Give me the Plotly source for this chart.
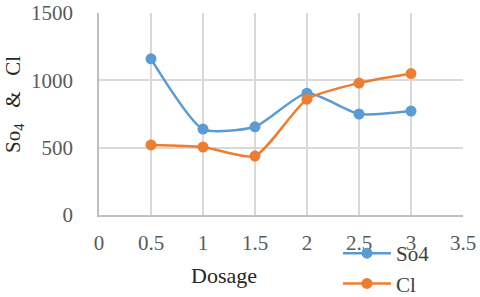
import plotly.graph_objects as go

dosage = [0.5, 1, 1.5, 2, 2.5, 3]
so4 = [1160, 638, 655, 905, 750, 772]
cl = [520, 505, 438, 860, 980, 1050]

FONT = "Liberation Serif"
L, R, T, B = 99, 17, 13, 82
W, H = 480, 297
pw, ph = W - L - R, H - T - B

fig = go.Figure()
fig.add_trace(go.Scatter(x=dosage, y=so4, name="So4", mode="lines+markers",
                         line=dict(color="#5B9BD5", width=2.5, shape="spline", smoothing=0.6),
                         marker=dict(size=11, color="#5B9BD5")))
fig.add_trace(go.Scatter(x=dosage, y=cl, name="Cl", mode="lines+markers",
                         line=dict(color="#ED7D31", width=2.5, shape="spline", smoothing=0.6),
                         marker=dict(size=11, color="#ED7D31")))

tickfont = dict(family=FONT, size=21, color="#595959")
fig.update_layout(
    width=W, height=H,
    margin=dict(l=L, r=R, t=T, b=B, autoexpand=False),
    paper_bgcolor="white", plot_bgcolor="white",
    font=dict(family=FONT, size=21, color="#595959"),
    showlegend=True,
    legend=dict(x=(338 - L) / pw, y=-(233 - T - ph) / ph, xanchor="left", yanchor="top",
                bgcolor="rgba(0,0,0,0)", font=dict(family=FONT, size=21, color="#404040"),
                tracegroupgap=0, itemwidth=48, borderwidth=0),
    xaxis=dict(range=[0, 3.5], dtick=0.5, tick0=0, showgrid=True, gridcolor="#D9D9D9",
               gridwidth=1.5, showline=True, linecolor="#BFBFBF", linewidth=1.5,
               zeroline=False, ticks="", tickfont=tickfont, automargin=False,
               ticklabelstandoff=8),
    yaxis=dict(range=[0, 1500], dtick=500, showgrid=True, gridcolor="#D9D9D9", gridwidth=1.5,
               showline=True, linecolor="#BFBFBF", linewidth=1.5, zeroline=False,
               ticks="", tickfont=tickfont, automargin=False, ticklabelstandoff=20),
)
fig.add_annotation(text="So<sub>4</sub>   &amp;   Cl", xref="paper", yref="paper",
                   x=(14 - L) / pw, y=(T + ph - 105) / ph, xanchor="center", yanchor="middle",
                   textangle=-90, showarrow=False,
                   font=dict(family=FONT, size=21, color="#262626"))
fig.add_annotation(text="Dosage", xref="paper", yref="paper",
                   x=(224 - L) / pw, y=-(275 - T - ph) / ph, xanchor="center", yanchor="middle",
                   showarrow=False, font=dict(family=FONT, size=22, color="#262626"))
fig.write_html("out.html", config={"displayModeBar": False},
               post_script="document.body.style.margin='0';document.body.style.padding='0';")
